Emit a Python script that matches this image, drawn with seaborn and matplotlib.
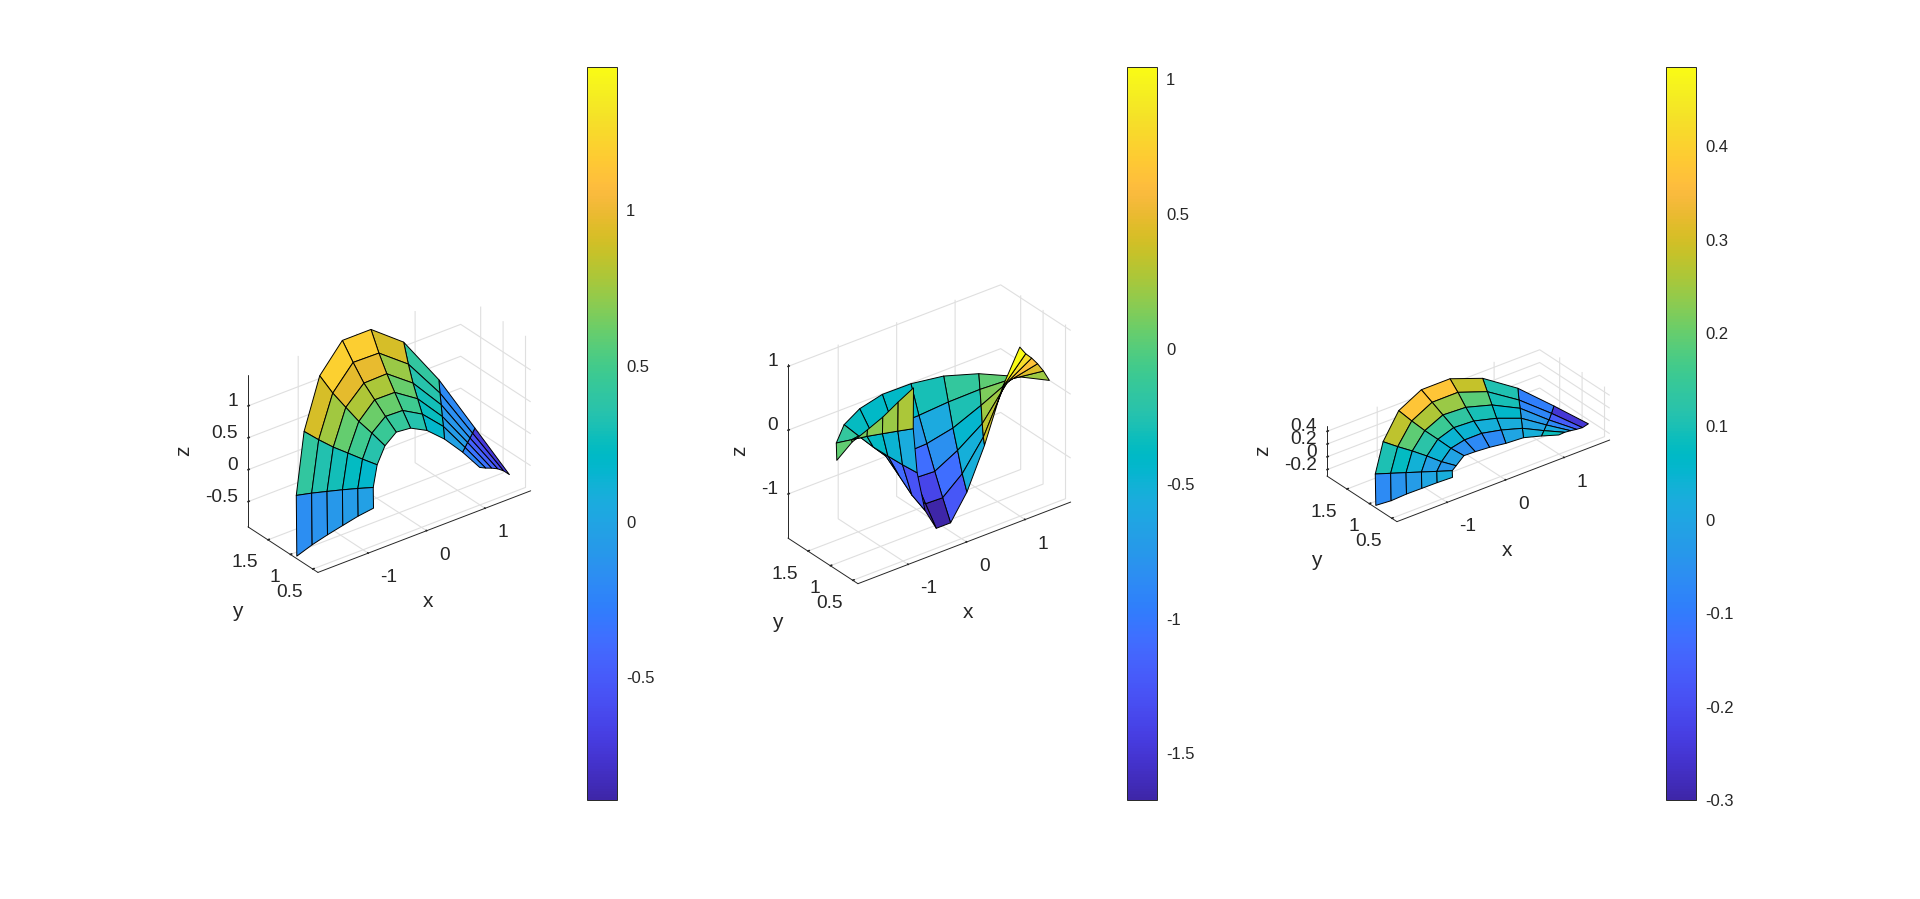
import numpy as np
import matplotlib
matplotlib.use('Agg')
import matplotlib.pyplot as plt
import seaborn as sns
from matplotlib.cm import ScalarMappable
from matplotlib.colors import Normalize
from mpl_toolkits.mplot3d import proj3d

sns.set_theme(style='white')
plt.rcParams['font.family'] = ['Liberation Sans', 'DejaVu Sans']

# polar grid of the patch
theta_deg = [30, 43.3, 56.7, 70, 83.3, 96.7, 110, 123.3, 136.7, 150]
radius = [1.05, 1.26, 1.47, 1.68, 1.89, 2.1]
y_shift = -0.14

# z values: one row per theta, one column per radius
z_left = [
    [-0.222, -0.344, -0.457, -0.579, -0.722, -0.894],
    [-0.020, -0.066, -0.108, -0.159, -0.201, -0.242],
    [0.178, 0.255, 0.291, 0.354, 0.415, 0.504],
    [0.340, 0.480, 0.605, 0.735, 0.917, 1.146],
    [0.434, 0.606, 0.785, 0.973, 1.193, 1.460],
    [0.457, 0.616, 0.790, 0.964, 1.202, 1.460],
    [0.352, 0.485, 0.603, 0.758, 0.917, 1.124],
    [0.180, 0.229, 0.284, 0.337, 0.413, 0.504],
    [-0.037, -0.065, -0.098, -0.136, -0.175, -0.223],
    [-0.221, -0.330, -0.460, -0.591, -0.732, -0.894],
]
z_middle = [
    [1.045, 0.829, 0.649, 0.448, 0.222, -0.037],
    [0.381, 0.313, 0.220, 0.126, 0.033, -0.050],
    [-0.540, -0.530, -0.442, -0.275, -0.146, -0.021],
    [-1.245, -1.073, -0.823, -0.589, -0.297, -0.005],
    [-1.670, -1.381, -1.072, -0.742, -0.403, -0.010],
    [-1.670, -1.371, -1.056, -0.756, -0.404, -0.005],
    [-1.280, -1.105, -0.861, -0.624, -0.365, -0.012],
    [-0.564, -0.478, -0.382, -0.281, -0.148, -0.010],
    [0.265, 0.215, 0.162, 0.108, 0.043, -0.021],
    [1.045, 0.839, 0.619, 0.436, 0.259, -0.012],
]
z_right = [
    [0.085, 0.015, -0.072, -0.163, -0.248, -0.300],
    [0.031, -0.005, -0.036, -0.077, -0.093, -0.097],
    [-0.002, 0.024, 0.060, 0.096, 0.105, 0.168],
    [-0.064, 0.029, 0.097, 0.190, 0.283, 0.377],
    [-0.069, 0.046, 0.135, 0.245, 0.376, 0.485],
    [-0.051, 0.045, 0.151, 0.263, 0.375, 0.485],
    [-0.005, 0.045, 0.121, 0.192, 0.278, 0.375],
    [-0.036, -0.013, 0.036, 0.075, 0.103, 0.141],
    [0.024, 0.001, -0.021, -0.043, -0.066, -0.089],
    [0.060, -0.007, -0.081, -0.154, -0.243, -0.300],
]

x_ticks = [-1, 0, 1]
y_ticks = [0.5, 1, 1.5]
z_ticks_left = [-0.5, 0, 0.5, 1]
z_ticks_middle = [-1, 0, 1]
z_ticks_right = [-0.2, 0, 0.2, 0.4]
cbar_ticks_left = [-0.5, 0, 0.5, 1]
cbar_ticks_middle = [-1.5, -1, -0.5, 0, 0.5, 1]
cbar_ticks_right = [-0.3, -0.2, -0.1, 0, 0.1, 0.2, 0.3, 0.4]

# parula
parula = [
    (0.2422, 0.1504, 0.6603), (0.2504, 0.1650, 0.7076), (0.2578, 0.1818, 0.7511), (0.2647, 0.1978, 0.7952),
    (0.2706, 0.2147, 0.8364), (0.2751, 0.2342, 0.8710), (0.2783, 0.2559, 0.8991), (0.2803, 0.2782, 0.9221),
    (0.2813, 0.3006, 0.9414), (0.2810, 0.3228, 0.9579), (0.2795, 0.3447, 0.9717), (0.2760, 0.3667, 0.9829),
    (0.2699, 0.3892, 0.9906), (0.2602, 0.4123, 0.9952), (0.2440, 0.4358, 0.9988), (0.2206, 0.4603, 0.9973),
    (0.1963, 0.4847, 0.9892), (0.1834, 0.5074, 0.9798), (0.1786, 0.5289, 0.9682), (0.1764, 0.5499, 0.9520),
    (0.1687, 0.5703, 0.9359), (0.1540, 0.5902, 0.9218), (0.1460, 0.6091, 0.9079), (0.1380, 0.6276, 0.8973),
    (0.1248, 0.6459, 0.8883), (0.1113, 0.6635, 0.8763), (0.0952, 0.6798, 0.8598), (0.0689, 0.6948, 0.8394),
    (0.0297, 0.7082, 0.8163), (0.0036, 0.7203, 0.7917), (0.0067, 0.7312, 0.7660), (0.0433, 0.7411, 0.7394),
    (0.0964, 0.7500, 0.7120), (0.1408, 0.7584, 0.6842), (0.1717, 0.7670, 0.6554), (0.1938, 0.7758, 0.6251),
    (0.2161, 0.7843, 0.5923), (0.2470, 0.7918, 0.5567), (0.2906, 0.7973, 0.5188), (0.3406, 0.8008, 0.4789),
    (0.3909, 0.8029, 0.4354), (0.4456, 0.8024, 0.3909), (0.5044, 0.7993, 0.3480), (0.5616, 0.7942, 0.3045),
    (0.6174, 0.7876, 0.2612), (0.6720, 0.7793, 0.2227), (0.7242, 0.7698, 0.1910), (0.7738, 0.7598, 0.1646),
    (0.8203, 0.7498, 0.1535), (0.8634, 0.7406, 0.1596), (0.9035, 0.7330, 0.1774), (0.9393, 0.7288, 0.2100),
    (0.9728, 0.7298, 0.2394), (0.9956, 0.7434, 0.2371), (0.9970, 0.7659, 0.2199), (0.9952, 0.7893, 0.2028),
    (0.9892, 0.8136, 0.1885), (0.9786, 0.8386, 0.1766), (0.9676, 0.8639, 0.1643), (0.9610, 0.8890, 0.1537),
    (0.9597, 0.9135, 0.1423), (0.9628, 0.9373, 0.1265), (0.9691, 0.9606, 0.1064), (0.9769, 0.9839, 0.0805),
]
cmap = sns.blend_palette(parula, n_colors=64, as_cmap=True)

W, H = 1920, 899
fig = plt.figure(figsize=(W / 100, H / 100), dpi=100)

theta = np.radians(theta_deg)
r_grid = np.array(radius)
x = np.outer(np.cos(theta), r_grid)
y = np.outer(np.sin(theta), r_grid) + y_shift
x_lim = (-1.86, 1.78)
y_lim = (y.min(), y.max())

text_color = '#262626'
grid_color = '#dfdfdf'
px_per_unit = 73.67
side = 800


def put_text(ax, label, point, offset, size=13.8, ha='center', rotation=0):
    # label placed a few pixels away from a point of the 3d box
    px, py, _ = proj3d.proj_transform(*point, ax.get_proj())
    ax.annotate(label, xy=(px, py), xytext=offset, textcoords='offset pixels',
                ha=ha, va='center', fontsize=size, color=text_color,
                rotation=rotation, annotation_clip=False)


def draw_panel(z, z_lim, c_lim, z_ticks, c_ticks, center, bar_x, z_label_dx):
    z = np.array(z)
    lx = x_lim[1] - x_lim[0]
    ly = y_lim[1] - y_lim[0]
    lz = z_lim[1] - z_lim[0]
    # same data scale in all panels, like axis equal
    zoom = px_per_unit * (side / 1.85) ** -1 * np.linalg.norm([lx, ly, lz]) / 1.9057
    left = (center[0] - 0.5135 * side) / W
    bottom = (H - center[1] - 0.5135 * side) / H
    ax = fig.add_axes([left, bottom, side / W, side / H], projection='3d')
    ax.patch.set_alpha(0)
    ax.set_proj_type('ortho')
    ax.view_init(elev=30, azim=-127.5)
    ax.set_box_aspect((lx, ly, lz), zoom=zoom)
    ax.set_xlim(*x_lim, view_margin=0)
    ax.set_ylim(*y_lim, view_margin=0)
    ax.set_zlim(*z_lim, view_margin=0)

    norm = Normalize(*c_lim)
    ax.plot_surface(x, y, z, rstride=1, cstride=1, facecolors=cmap(norm(z)),
                    shade=False, edgecolor='black', linewidth=0.7, antialiased=True)

    ax.set_xticks(x_ticks)
    ax.set_yticks(y_ticks)
    ax.set_zticks(z_ticks)
    ax.set_xticklabels([''] * len(x_ticks))
    ax.set_yticklabels([''] * len(y_ticks))
    ax.set_zticklabels([''] * len(z_ticks))
    for axis in (ax.xaxis, ax.yaxis, ax.zaxis):
        axis.set_pane_color((1, 1, 1, 0))
        axis.pane.set_edgecolor((1, 1, 1, 0))
        axis.line.set_color('#262626')
        axis.line.set_linewidth(0.7)
        axis._axinfo['grid'].update(color=grid_color, linewidth=0.8)
        axis._axinfo['tick'].update(inward_factor=0.0, outward_factor=0.08)
    ax.grid(True)

    for t in x_ticks:
        put_text(ax, f'{t:g}', (t, y_lim[0], z_lim[0]), (20 if t < 0 else 17.5, -24.5))
    for t in y_ticks:
        put_text(ax, f'{t:g}', (x_lim[0], t, z_lim[0]), (-10, -23), ha='right')
    for t in z_ticks:
        put_text(ax, f'{t:g}', (x_lim[0], y_lim[1], t), (-10, 4.5), ha='right')
    put_text(ax, 'x', (0, y_lim[0], z_lim[0]), (1, -71), size=15)
    put_text(ax, 'y', (x_lim[0], 1.17, z_lim[0]), (-45, -62), size=15)
    put_text(ax, 'z', (x_lim[0], y_lim[1], sum(z_lim) / 2), (z_label_dx, 0), size=15, rotation=90)

    cax = fig.add_axes([bar_x / W, 1 - 800 / H, 29.5 / W, 733 / H])
    sm = ScalarMappable(norm=norm, cmap=cmap)
    cb = fig.colorbar(sm, cax=cax, ticks=c_ticks)
    cb.ax.set_yticklabels([f'{t:g}' for t in c_ticks])
    cb.ax.tick_params(direction='in', length=5, width=0.6, labelsize=12,
                      colors=text_color, pad=7, right=True)
    cb.outline.set_edgecolor('#262626')
    cb.outline.set_linewidth(0.7)
    return ax


draw_panel(z_left, (-0.894, 1.483), (-0.894, 1.46), z_ticks_left, cbar_ticks_left, (389.3, 433), 587, -64)
draw_panel(z_middle, (-1.69, 1.04), (-1.673, 1.045), z_ticks_middle, cbar_ticks_middle, (929.3, 433), 1127, -48)
draw_panel(z_right, (-0.3, 0.485), (-0.3, 0.485), z_ticks_right, cbar_ticks_right, (1468.3, 433), 1666, -64)

fig.savefig('out.png', dpi=100)
